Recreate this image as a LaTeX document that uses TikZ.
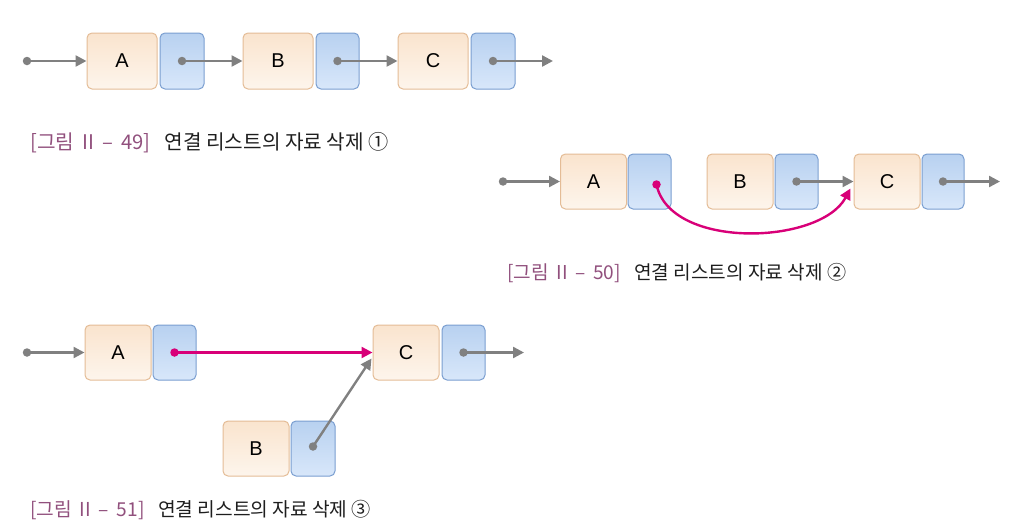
\documentclass[tikz,border=0pt]{standalone}
\usepackage{fontspec}
\setmainfont{Liberation Sans}
\newfontfamily\kr{Noto Sans CJK KR}
\usetikzlibrary{arrows.meta}
\definecolor{dataTop}{RGB}{250,228,206}
\definecolor{dataBot}{RGB}{253,245,236}
\definecolor{dataLine}{RGB}{228,188,150}
\definecolor{ptrTop}{RGB}{184,209,240}
\definecolor{ptrBot}{RGB}{216,231,250}
\definecolor{ptrLine}{RGB}{122,158,208}
\definecolor{linkGray}{RGB}{128,128,128}
\definecolor{linkMag}{RGB}{216,0,120}
\definecolor{capPurple}{RGB}{145,80,125}
\definecolor{capText}{RGB}{30,30,30}
\newcommand{\figlabel}[1]{{\color{capPurple}[그림\hspace{0.18em} II\hspace{0.18em} –\hspace{0.18em} #1]}\hspace{0.7em}}
\tikzset{
  databox/.style={draw=dataLine, line width=1pt, rounded corners=5pt,
    top color=dataTop, bottom color=dataBot, minimum height=#1, inner sep=0pt,
    font=\fontsize{20}{20}\selectfont},
  ptrbox/.style={draw=ptrLine, line width=1pt, rounded corners=5pt,
    top color=ptrTop, bottom color=ptrBot, minimum height=#1, inner sep=0pt},
  link/.style={draw=linkGray, line width=2.4pt, -{Triangle[length=11pt,width=11pt]}},
  maglink/.style={draw=linkMag, line width=2.4pt, -{Triangle[length=11pt,width=11pt]}},
  dotg/.style={circle, fill=linkGray, inner sep=0pt, minimum size=8.5pt},
  dotm/.style={circle, fill=linkMag, inner sep=0pt, minimum size=8.5pt},
  caption/.style={anchor=west, inner sep=0pt, text=capText, font=\kr\fontsize{#1}{#1}\selectfont},
  caption/.default=20.2
}
\begin{document}
\begin{tikzpicture}[x=1pt,y=-1pt]
\useasboundingbox (0,0) rectangle (1013,522);

% ---- Figure 49 ----
\node[databox=56pt, minimum width=70pt] (A1) at (122,61) {A};
\node[ptrbox=56pt, minimum width=44pt] (P1) at (182,61) {};
\node[databox=56pt, minimum width=70pt] (B1) at (278,61) {B};
\node[ptrbox=56pt, minimum width=43pt] (Q1) at (337.5,61) {};
\node[databox=56pt, minimum width=70pt] (C1) at (433,61) {C};
\node[ptrbox=56pt, minimum width=44pt] (R1) at (493,61) {};
\node[dotg] (s1) at (27,61) {};
\coordinate (e1) at (553,61);
\node[dotg] (dp1) at (P1.center) {};
\node[dotg] (dq1) at (Q1.center) {};
\node[dotg] (dr1) at (R1.center) {};
\draw[link] (s1.center) -- (A1.west);
\draw[link] (dp1.center) -- (B1.west);
\draw[link] (dq1.center) -- (C1.west);
\draw[link] (dr1.center) -- (e1);
\node[caption] (cap1) at (30,143) {\figlabel{49}연결 리스트의 자료 삭제 ①};

% ---- Figure 50 ----
\node[databox=55pt, minimum width=66pt] (A2) at (593.5,181.5) {A};
\node[ptrbox=55pt, minimum width=43pt] (P2) at (649.5,181.5) {};
\node[databox=55pt, minimum width=66pt] (B2) at (740,181.5) {B};
\node[ptrbox=55pt, minimum width=43pt] (Q2) at (796.5,181.5) {};
\node[databox=55pt, minimum width=66pt] (C2) at (887,181.5) {C};
\node[ptrbox=55pt, minimum width=42pt] (R2) at (943,181.5) {};
\node[dotg] (s2) at (503,181.5) {};
\coordinate (e2) at (1000,181.5);
\node[dotm] (dp2) at ([xshift=7pt,yshift=-3pt]P2.center) {};
\node[dotg] (dq2) at (Q2.center) {};
\node[dotg] (dr2) at (R2.center) {};
\draw[link] (s2.center) -- (A2.west);
\draw[link] (dq2.center) -- (C2.west);
\draw[link] (dr2.center) -- (e2);
\draw[maglink] (dp2.center) .. controls (670,250) and (820,245) .. ([xshift=-3pt,yshift=-7pt]C2.west);
\node[caption=19.1] (cap2) at (507,273) {\figlabel{50}연결 리스트의 자료 삭제 ②};

% ---- Figure 51 ----
\node[databox=55pt, minimum width=66pt] (A3) at (118,352.5) {A};
\node[ptrbox=55pt, minimum width=43pt] (P3) at (174.5,352.5) {};
\node[databox=55pt, minimum width=66pt] (C3) at (406,352.5) {C};
\node[ptrbox=55pt, minimum width=43pt] (R3) at (463.5,352.5) {};
\node[databox=55pt, minimum width=66pt] (B3) at (256,448.5) {B};
\node[ptrbox=55pt, minimum width=44pt] (Q3) at (313,448.5) {};
\node[dotg] (s3) at (27,352.5) {};
\coordinate (e3) at (524,352.5);
\node[dotm] (dp3) at (P3.center) {};
\node[dotg] (dq3) at ([yshift=2pt]Q3.center) {};
\node[dotg] (dr3) at (R3.center) {};
\draw[link] (s3.center) -- (A3.west);
\draw[maglink] (dp3.center) -- (C3.west);
\draw[link] (dq3.center) -- ([xshift=-1pt,yshift=-6pt]C3.west);
\draw[link] (dr3.center) -- (e3);
\node[caption=19.2] (cap3) at (30,510) {\figlabel{51}연결 리스트의 자료 삭제 ③};
\end{tikzpicture}
\end{document}
